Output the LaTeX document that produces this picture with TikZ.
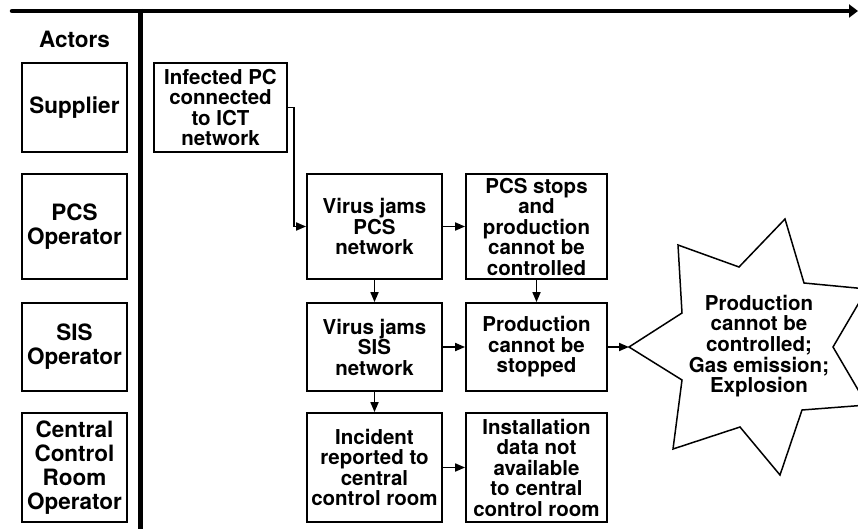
\documentclass[tikz,border=0pt]{standalone}
\usepackage{fontspec}
\setmainfont{TeX Gyre Heros}
\usetikzlibrary{arrows.meta}

\begin{document}
\begin{tikzpicture}[x=1pt,y=-1pt,
  box/.style={draw, line width=1.8pt, align=center, inner sep=0pt,
    font=\bfseries\fontsize{20.5}{20.5}\selectfont},
  actor/.style={draw, line width=1.5pt, align=center, inner sep=0pt,
    minimum width=105pt, font=\bfseries\fontsize{22.5}{24}\selectfont},
  flow/.style={line width=1.7pt, -{Triangle[length=10pt,width=8pt]}},
  axis/.style={line width=4.5pt},
]
\useasboundingbox (0,0) rectangle (858,529);
\clip (0,0) rectangle (858,529);

% time axis and actor separator
\coordinate (axL) at (12,11);
\coordinate (axR) at (858,11);
\coordinate (sepT) at (140.5,9);
\coordinate (sepB) at (140.5,529);
\draw[axis, line cap=round, -{Triangle[length=9pt,width=13pt]}] (axL) -- (axR);
\draw[axis] (sepT) -- (sepB);

% actor column
\node[font=\bfseries\fontsize{22.5}{24}\selectfont] (actors) at (74.5,39) {Actors};
\node[actor, minimum height=89pt]  (sup) at (74.5,107.5) {Supplier};
\node[actor, minimum height=105pt] (pcsop) at (74.5,226.5) {PCS\\Operator};
\node[actor, minimum height=88pt]  (sisop) at (74.5,347) {SIS\\Operator};
\node[actor, minimum height=109pt] (ccrop) at (74.5,467.5) {Central\\Control\\Room\\Operator};

% event chain
\node[box, minimum width=133pt, minimum height=89pt] (infpc) at (220.5,107.5)
  {Infected PC\\connected\\to ICT\\network};
\node[box, minimum width=135pt, minimum height=105pt] (vpcs) at (374.5,226.5)
  {Virus jams\\PCS\\network};
\node[box, minimum width=141pt, minimum height=105pt] (pcsstop) at (536.5,226.5)
  {PCS stops\\and\\production\\cannot be\\controlled};
\node[box, minimum width=135pt, minimum height=88pt] (vsis) at (374.5,347)
  {Virus jams\\SIS\\network};
\node[box, minimum width=141pt, minimum height=88pt] (prodstop) at (536.5,347)
  {Production\\cannot be\\stopped};
\node[box, minimum width=135pt, minimum height=109pt] (incident) at (374.5,467.5)
  {Incident\\reported to\\central\\control room};
\node[box, minimum width=141pt, minimum height=109pt] (install) at (536.5,467.5)
  {Installation\\data not\\available\\to central\\control room};

% outcome burst
\coordinate (tip) at (629,347);
\draw[line width=1.5pt, line join=miter] (tip) -- (682,313) -- (678,245) -- (739,267)
  -- (785,219) -- (804,283) -- (867,289) -- (833,347) -- (867,405) -- (802,410)
  -- (780,475) -- (740,427) -- (673,449) -- (682,380) -- cycle;
\node[align=center, font=\bfseries\fontsize{20.5}{20.7}\selectfont] (boom) at (759,346)
  {Production\\cannot be\\controlled;\\Gas emission;\\Explosion};

% connectors
\draw[flow] (infpc.east) -- ++(6,0) |- (vpcs.west);
\draw[flow] (vpcs) -- (pcsstop);
\draw[flow] (vpcs) -- (vsis);
\draw[flow] (pcsstop) -- (prodstop);
\draw[flow] (vsis) -- (prodstop);
\draw[flow] (vsis) -- (incident);
\draw[flow] (incident) -- (install);
\draw[flow] (prodstop.east) -- (tip);
\end{tikzpicture}
\end{document}
